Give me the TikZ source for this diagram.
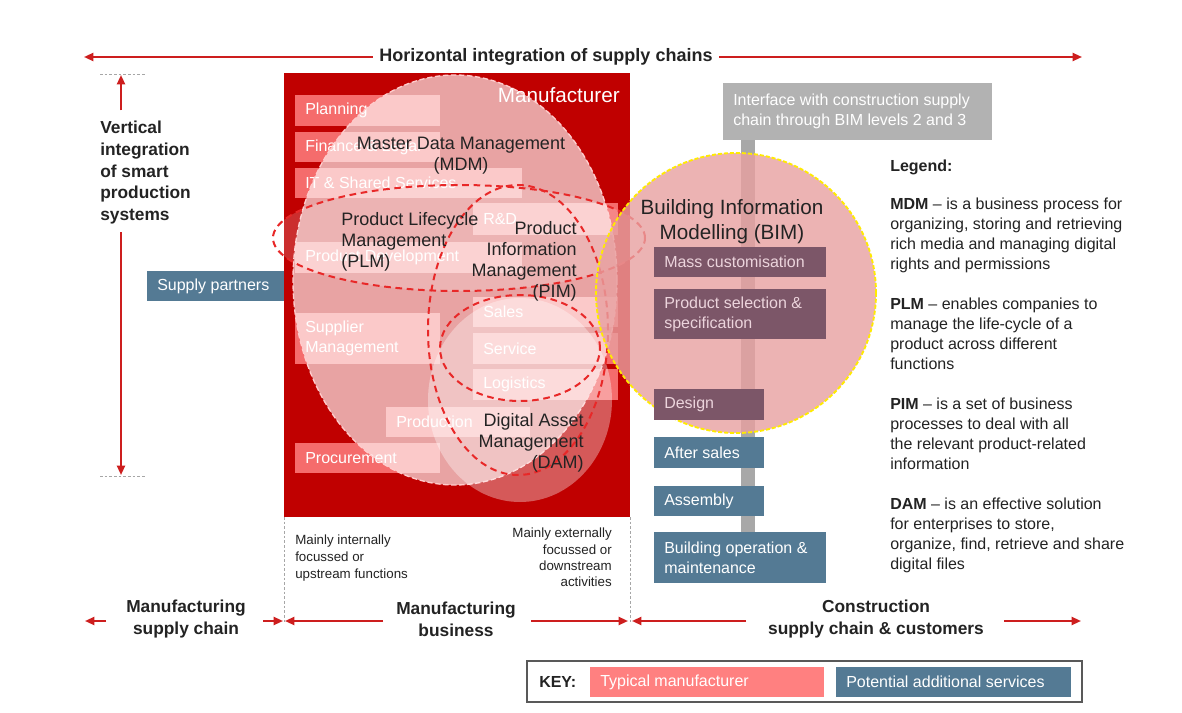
\documentclass[tikz,border=0pt]{standalone}
\usepackage{fontspec}
\setmainfont{Liberation Sans}
\usetikzlibrary{arrows.meta}
\definecolor{dred}{RGB}{192,0,0}
\definecolor{arr}{RGB}{205,30,30}
\definecolor{pinkbox}{RGB}{255,128,128}
\definecolor{bluebox}{RGB}{84,122,148}
\definecolor{mauve}{RGB}{124,86,104}
\definecolor{mauvetxt}{RGB}{236,212,220}
\definecolor{bimfill}{RGB}{232,160,160}
\definecolor{ifgray}{RGB}{178,178,178}
\definecolor{bargray}{RGB}{168,168,168}
\definecolor{dashc}{RGB}{232,40,40}
\definecolor{txt}{RGB}{35,35,35}
\definecolor{bimline}{RGB}{255,235,0}
\newcommand\bx[8]{%
  \node[#6, minimum width={0.75pt*(#4-#2)}, minimum height={0.75pt*(#5-#3)}] (#1) at ({(#2+#4)/2},{(#3+#5)/2}) {};
  \node[#7, anchor=west] (#1t) at ([xshift=7.5pt]#1.west) {#8};
}
\tikzset{
  box/.style={rectangle, inner sep=0pt, outer sep=0pt, draw=none},
  pinkb/.style={box, fill=pinkbox, fill opacity=0.85},
  blueb/.style={box, fill=bluebox},
  mauveb/.style={box, fill=mauve},
  grayb/.style={box, fill=ifgray},
  btext/.style={inner sep=0pt, font=\fontsize{12}{15}\selectfont, align=left, text=white},
  mtext/.style={btext, text=mauvetxt},
  lbl/.style={inner sep=0pt, font=\fontsize{13.5}{15.75}\selectfont, text=txt},
  ttl/.style={inner sep=0pt, font=\fontsize{13}{16}\selectfont\bfseries, text=txt},
  legend/.style={inner sep=0pt, font=\fontsize{12}{15}\selectfont, text=txt, align=left},
  small/.style={inner sep=0pt, font=\fontsize{10}{12.5}\selectfont, text=txt},
  harrow/.style={draw=arr, line width=1.5pt, -{Triangle[length=7pt,width=6pt]}},
  dashred/.style={draw=dashc, line width=1.5pt, dash pattern=on 5pt off 3.5pt},
  gdash/.style={draw=black!35, line width=0.6pt, dash pattern=on 2pt off 1.5pt},
}
\begin{document}
\begin{tikzpicture}[x=0.75pt,y=-0.75pt]
\useasboundingbox (0,0) rectangle (1182,713);
\fill[white] (0,0) rectangle (1182,713);

% ---- title and horizontal arrows
\node[ttl, font=\fontsize{13.5}{16}\selectfont\bfseries, inner sep=5pt] (hint) at (546,57) {Horizontal integration of supply chains};
\coordinate (hl) at (84,57);
\coordinate (hr) at (1082,57);
\draw[harrow] (hint.west) -- (hl);
\draw[harrow] (hint.east) -- (hr);

% ---- vertical integration
\coordinate (dt1) at (100,74); \coordinate (dt2) at (146,74);
\coordinate (db1) at (100,476); \coordinate (db2) at (146,476);
\draw[gdash] (dt1) -- (dt2);
\draw[gdash] (db1) -- (db2);
\coordinate (vtop) at (121,75);
\coordinate (vbot) at (121,475);
\node[ttl, align=left, anchor=north west, font=\fontsize{13}{16.2}\selectfont\bfseries] (vint) at (100,121) {Vertical\\integration\\of smart\\production\\systems};
\draw[harrow] ([yshift=8pt]vint.north -| vtop) -- (vtop);
\draw[harrow] ([yshift=-6pt]vint.south -| vbot) -- (vbot);

% ---- supply partners
\bx{sp}{147}{271}{285}{301}{blueb}{btext}{Supply partners}

% ---- manufacturer box
\node[box, fill=dred, minimum width={0.75pt*346}, minimum height={0.75pt*444}] (manu) at (457,295) {};

\bx{b1}{295}{95}{440}{126}{pinkb}{btext}{Planning}
\bx{b2}{295}{132}{440}{162}{pinkb}{btext}{Finance \& Legal}
\bx{b3}{295}{168}{522}{198}{pinkb}{btext}{IT \& Shared Services}
\bx{b4}{473}{203}{618}{235}{pinkb}{btext}{R\&D}
\bx{b5}{295}{242}{522}{273}{pinkb}{btext}{Product Development}
\bx{b6}{295}{313}{440}{364}{pinkb}{btext}{Supplier\\Management}
\bx{b7}{473}{297}{618}{327}{pinkb}{btext}{Sales}
\bx{b8}{473}{333}{618}{364}{pinkb}{btext}{Service}
\bx{b9}{473}{369}{618}{400}{pinkb}{btext}{Logistics}
\bx{b10}{386}{407}{530}{437}{pinkb}{btext}{Production}
\bx{b11}{295}{443}{440}{473}{pinkb}{btext}{Procurement}

\node[inner sep=0pt, anchor=east, text=white, font=\fontsize{15.5}{18}\selectfont] (mlab) at (620,95) {Manufacturer};

% ---- overlapping ellipses
\fill[white, fill opacity=0.64] (455,280) ellipse [x radius=121.5pt, y radius=153.75pt];
\draw[draw=white!80!red, line width=1pt, dash pattern=on 4pt off 2pt] (455,280) ellipse [x radius=121.5pt, y radius=153.75pt];
\fill[white, fill opacity=0.35] (520,400) ellipse [x radius=69pt, y radius=76.5pt];
\fill[white, fill opacity=0.18] (459,238) ellipse [x radius=139.5pt, y radius=39.75pt];
\draw[dashred] (459,238) ellipse [x radius=139.5pt, y radius=39.75pt];
\draw[dashred] (518,330) ellipse [x radius=67.5pt, y radius=108.75pt];
\draw[dashred] (520,348) ellipse [x radius=60pt, y radius=39.75pt];

% ---- interface + bar
\fill[bargray] (741,140) rectangle (755,532);
\bx{ifc}{723}{83}{992}{140}{grayb}{btext}{Interface with construction supply\\chain through BIM levels 2 and 3}

% ---- BIM circle
\fill[bimfill, fill opacity=0.8] (736,293) circle [radius=105pt];
\draw[draw=bimline, line width=1.4pt, dash pattern=on 3pt off 1.5pt] (736,293) circle [radius=105pt];

\bx{m1}{654}{247}{826}{277}{mauveb}{mtext}{Mass customisation}
\bx{m2}{654}{289}{826}{339}{mauveb}{mtext}{Product selection \&\\specification}
\bx{m3}{654}{389}{764}{420}{mauveb}{mtext}{Design}
\bx{s1}{654}{437}{764}{468}{blueb}{btext}{After sales}
\bx{s2}{654}{486}{764}{516}{blueb}{btext}{Assembly}
\bx{s3}{654}{532}{826}{583}{blueb}{btext}{Building operation \&\\maintenance}

% ---- ellipse labels
\node[lbl, align=center] (mdm) at (461,156) {Master Data Management\\(MDM)};
\node[lbl, align=left, anchor=west] (plm) at (341,242) {Product Lifecycle\\Management\\(PLM)};
\node[lbl, align=right, anchor=east] (pim) at (577,261) {Product\\Information\\Management\\(PIM)};
\node[lbl, align=right, anchor=east] (dam) at (584,443) {Digital Asset\\Management\\(DAM)};
\node[lbl, align=center, font=\fontsize{15.5}{18.75}\selectfont] (bim) at (732,222) {Building Information\\Modelling (BIM)};

% ---- legend
\node[legend, anchor=north west] (lg0) at (890,160) {\textbf{Legend:}};
\node[legend, anchor=north west] (lg1) at (890,198) {\textbf{MDM} – is a business process for\\organizing, storing and retrieving\\rich media and managing digital\\rights and permissions};
\node[legend, anchor=north west] (lg2) at (890,298) {\textbf{PLM} – enables companies to\\manage the life-cycle of a\\product across different\\functions};
\node[legend, anchor=north west] (lg3) at (890,398) {\textbf{PIM} – is a set of business\\processes to deal with all\\the relevant product-related\\information};
\node[legend, anchor=north west] (lg4) at (890,498) {\textbf{DAM} – is an effective solution\\for enterprises to store,\\organize, find, retrieve and share\\digital files};

% ---- bottom region
\coordinate (dl) at (284,623);
\coordinate (dr) at (630,623);
\draw[gdash] (manu.south west) -- (dl);
\draw[gdash] (manu.south east) -- (dr);
\node[small, align=left, anchor=north west] (intl) at (295,535) {Mainly internally\\focussed or\\upstream functions};
\node[small, align=right, anchor=north east, font=\fontsize{10}{12.2}\selectfont] (extl) at (612,528) {Mainly externally\\focussed or\\downstream\\activities};

\node[ttl, align=center, font=\fontsize{13}{16.5}\selectfont\bfseries] (msc) at (186,619) {Manufacturing\\supply chain};
\node[ttl, align=center, font=\fontsize{13}{16.5}\selectfont\bfseries] (mbus) at (456,619) {Manufacturing\\business};
\node[ttl, align=center, font=\fontsize{13}{16.5}\selectfont\bfseries] (csc) at (876,619) {Construction\\supply chain \& customers};

\coordinate (a1s) at (106,621); \coordinate (a1e) at (85,621);
\coordinate (a2s) at (263,621); \coordinate (a2e) at (283,621);
\coordinate (a3s) at (383,621); \coordinate (a3e) at (285,621);
\coordinate (a4s) at (531,621); \coordinate (a4e) at (628,621);
\coordinate (a5s) at (746,621); \coordinate (a5e) at (632,621);
\coordinate (a6s) at (1004,621); \coordinate (a6e) at (1081,621);
\draw[harrow] (a1s) -- (a1e);
\draw[harrow] (a2s) -- (a2e);
\draw[harrow] (a3s) -- (a3e);
\draw[harrow] (a4s) -- (a4e);
\draw[harrow] (a5s) -- (a5e);
\draw[harrow] (a6s) -- (a6e);

% ---- KEY
\node[box, draw=black!65, line width=0.9pt, fill=white, minimum width={0.75pt*555}, minimum height={0.75pt*41}] (key) at (804.5,681.5) {};
\node[inner sep=0pt, anchor=west, font=\fontsize{12}{14}\selectfont\bfseries, text=txt] (keyl) at (539,682) {KEY:};
\bx{k1}{590}{667}{824}{697}{box, fill=pinkbox}{btext}{Typical manufacturer}
\bx{k2}{836}{667}{1071}{697}{blueb}{btext}{Potential additional services}
\end{tikzpicture}
\end{document}
